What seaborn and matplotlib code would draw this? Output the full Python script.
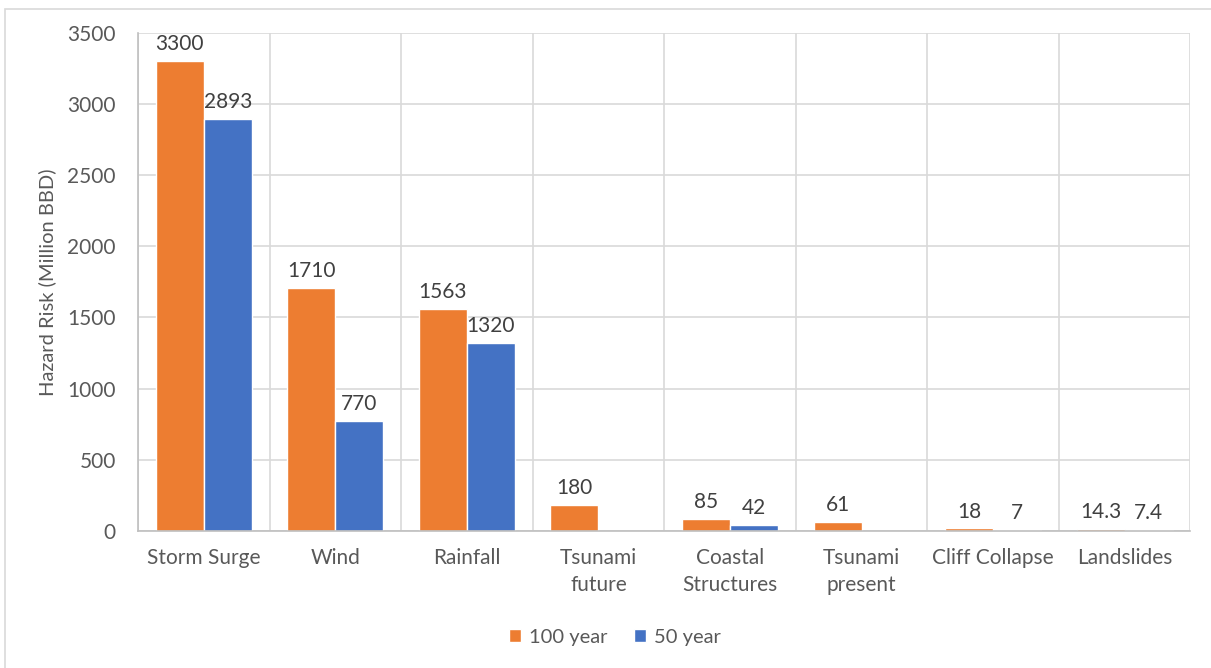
import matplotlib
matplotlib.use("Agg")
import matplotlib.pyplot as plt
import numpy as np
import pandas as pd
import seaborn as sns
from matplotlib.patches import Rectangle
from matplotlib.ticker import MultipleLocator, FixedLocator

categories = ["Storm Surge", "Wind", "Rainfall", "Tsunami\nfuture", "Coastal\nStructures",
              "Tsunami\npresent", "Cliff Collapse", "Landslides"]
series_names = ["100 year", "50 year"]
values_100 = [3300, 1710, 1563, 180, 85, 61, 18, 14.3]
values_50 = [2893, 770, 1320, np.nan, 42, np.nan, 7, 7.4]
colors = ["#ED7D31", "#4472C4"]

df = pd.DataFrame({
    "Hazard": categories * 2,
    "Period": [series_names[0]] * len(categories) + [series_names[1]] * len(categories),
    "Risk": values_100 + values_50,
})

sns.set_theme(style="white")
plt.rcParams["font.family"] = ["Lato", "DejaVu Sans"]

text_col = "#595959"
grid_col = "#D9D9D9"
fs = 15

fig = plt.figure(figsize=(12.11, 6.68), dpi=100)
ax = fig.add_axes([0.114, 0.205, 0.869, 0.746])

sns.barplot(data=df, x="Hazard", y="Risk", hue="Period", order=categories,
            hue_order=series_names, palette=colors, width=0.73, gap=0,
            saturation=1, errorbar=None, ax=ax, legend=True)


def fmt(v):
    if np.isnan(v):
        return ""
    return f"{int(v)}" if float(v).is_integer() else f"{v:.1f}"


for container in ax.containers:
    vals = container.datavalues
    ax.bar_label(container, labels=[fmt(v) for v in vals], padding=5,
                 fontsize=fs, color="#404040")

ax.set_ylim(0, 3500)
ax.set_xlim(-0.5, len(categories) - 0.5)
ax.yaxis.set_major_locator(MultipleLocator(500))
ax.xaxis.set_minor_locator(FixedLocator(np.arange(-0.5, len(categories), 1.0)))
ax.grid(axis="y", which="major", color=grid_col, linewidth=1.2)
ax.grid(axis="x", which="minor", color=grid_col, linewidth=1.2)
ax.set_axisbelow(True)
for side in ["top", "right"]:
    ax.spines[side].set_visible(False)
for side in ["left", "bottom"]:
    ax.spines[side].set_color("#BFBFBF")
    ax.spines[side].set_linewidth(1.2)

ax.tick_params(axis="both", which="both", length=0, labelsize=fs, labelcolor=text_col)
ax.tick_params(axis="x", pad=12)
ax.tick_params(axis="y", pad=16)
for lbl in ax.get_xticklabels():
    lbl.set_linespacing(1.45)
ax.set_xlabel("")
ax.set_ylabel("Hazard Risk (Million BBD)", fontsize=14.5, color=text_col)
ax.yaxis.set_label_coords(-0.078, 0.5)

handles, labels = ax.get_legend_handles_labels()
ax.get_legend().remove()
fig.legend(handles, labels, loc="center", bbox_to_anchor=(0.508, 0.046), ncol=2,
           frameon=False, fontsize=14.5, labelcolor=text_col, handlelength=0.6,
           handleheight=0.6, handletextpad=0.4, columnspacing=1.3)

fig.patches.append(Rectangle((5 / 1211, -0.01), 1.02, 1 - 9 / 668 + 0.01,
                             transform=fig.transFigure, fill=False,
                             edgecolor=grid_col, linewidth=1.2))

fig.savefig("out.png", dpi=100)
